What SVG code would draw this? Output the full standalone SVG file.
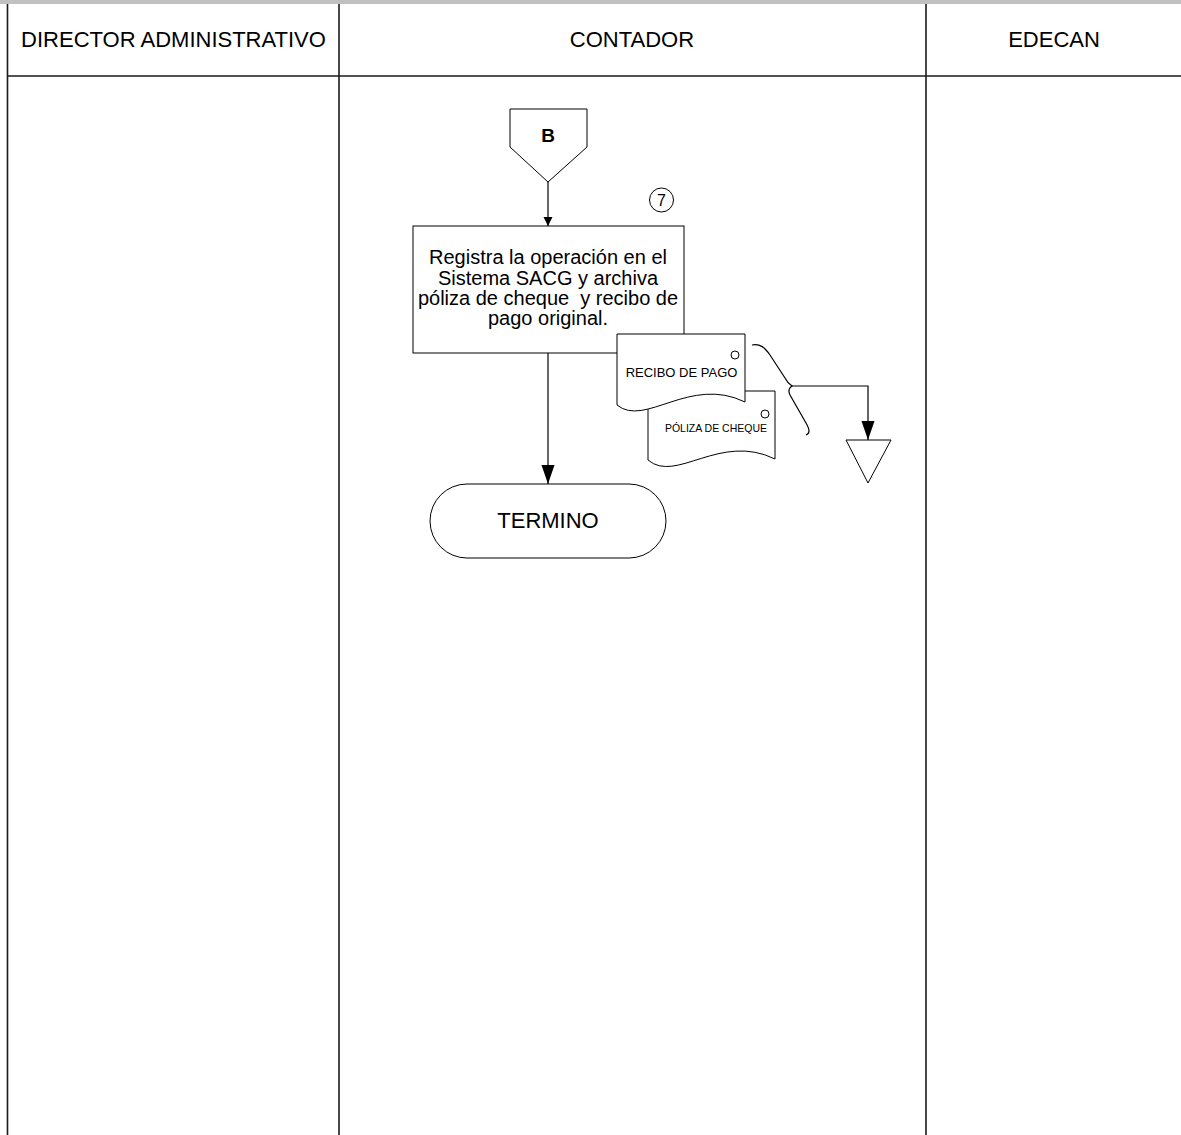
<svg xmlns="http://www.w3.org/2000/svg" width="1181" height="1135" viewBox="0 0 1181 1135">
  <style>
    .lane { stroke: #1a1a1a; stroke-width: 1.6; fill: none; }
    .shape { fill: #ffffff; stroke: #000000; stroke-width: 1; }
    .wire { fill: none; stroke: #000000; stroke-width: 1.2; }
    .hdr { font-family: "Liberation Sans", Arial, sans-serif; font-size: 22px; fill: #000; text-anchor: middle; }
    .body { font-family: "Liberation Sans", Arial, sans-serif; font-size: 20px; fill: #000; text-anchor: middle; }
    .doc { font-family: "Liberation Sans", Arial, sans-serif; fill: #000; text-anchor: middle; }
  </style>
  <defs>
    <marker id="arrowSmall" markerUnits="userSpaceOnUse" markerWidth="10" markerHeight="10" refX="9" refY="5" orient="auto">
      <path d="M0,0.5 L9,5 L0,9.5 Z" fill="#000"/>
    </marker>
    <marker id="arrowLarge" markerUnits="userSpaceOnUse" markerWidth="20" markerHeight="14" refX="19" refY="7" orient="auto">
      <path d="M0,0.5 L19,7 L0,13.5 Z" fill="#000"/>
    </marker>
  </defs>

  <!-- page background and swimlane frame -->
  <rect x="0" y="0" width="1181" height="1135" fill="#ffffff"/>
  <rect x="0" y="0" width="1181" height="4" fill="#c0c0c0"/>
  <g id="lanes">
    <line class="lane" x1="7.5" y1="4" x2="7.5" y2="1135"/>
    <line class="lane" x1="339" y1="4" x2="339" y2="1135"/>
    <line class="lane" x1="926" y1="4" x2="926" y2="1135"/>
    <line class="lane" x1="7" y1="76" x2="1181" y2="76"/>
    <text class="hdr" x="173.5" y="47">DIRECTOR ADMINISTRATIVO</text>
    <text class="hdr" x="632" y="47">CONTADOR</text>
    <text class="hdr" x="1054" y="47">EDECAN</text>
  </g>

  <!-- connectors -->
  <g id="connectors">
    <line class="wire" x1="548" y1="182" x2="548" y2="226" marker-end="url(#arrowSmall)"/>
    <line class="wire" x1="548" y1="353" x2="548" y2="484" marker-end="url(#arrowLarge)"/>
    <path class="wire" d="M792,386 H868 V440" marker-end="url(#arrowLarge)"/>
  </g>

  <!-- off-page connector B -->
  <g id="node-b">
    <path class="shape" d="M510,109 H587 V147 L548,182 L510,147 Z"/>
    <text x="548" y="142" font-family="Liberation Sans, Arial, sans-serif" font-size="19" font-weight="bold" text-anchor="middle">B</text>
  </g>

  <!-- step number -->
  <g id="step-7">
    <circle class="shape" cx="661.5" cy="200" r="12"/>
    <text x="661.5" y="206" font-family="Liberation Sans, Arial, sans-serif" font-size="16" text-anchor="middle">7</text>
  </g>

  <!-- process step -->
  <g id="node-registra">
    <rect class="shape" x="413" y="226" width="271" height="127"/>
    <text class="body" x="548" y="264">Registra la operación en el</text>
    <text class="body" x="548" y="284.5">Sistema SACG y archiva</text>
    <text class="body" x="548" y="305" xml:space="preserve">póliza de cheque  y recibo de</text>
    <text class="body" x="548" y="325">pago original.</text>
  </g>

  <!-- documents -->
  <g id="doc-poliza">
    <path class="shape" d="M648,391 H775 V459 C720,432 676,484 648,460 Z"/>
    <circle class="shape" cx="765" cy="414" r="4"/>
    <text class="doc" x="716" y="431.5" font-size="10.5">PÓLIZA DE CHEQUE</text>
  </g>
  <g id="doc-recibo">
    <path class="shape" d="M617,334 H745 V402 C690,375 645,428 617,405 Z"/>
    <circle class="shape" cx="735" cy="355" r="4"/>
    <text class="doc" x="681.5" y="376.5" font-size="13">RECIBO DE PAGO</text>
  </g>

  <!-- grouping brace -->
  <g id="brace">
    <path class="wire" d="M752,345 C760,343 765,348 770,355 L785,378 C787,382 789,384 792,386 C789,388 788,391 790,395 L806,423 C810,430 810,433 806,435"/>
  </g>

  <!-- archive -->
  <g id="node-archivo">
    <polygon class="shape" points="846,440 891,440 868,483"/>
  </g>

  <!-- terminator -->
  <g id="node-termino">
    <rect class="shape" x="430" y="484" width="236" height="74" rx="37" ry="37"/>
    <text class="hdr" x="548" y="528">TERMINO</text>
  </g>
</svg>
